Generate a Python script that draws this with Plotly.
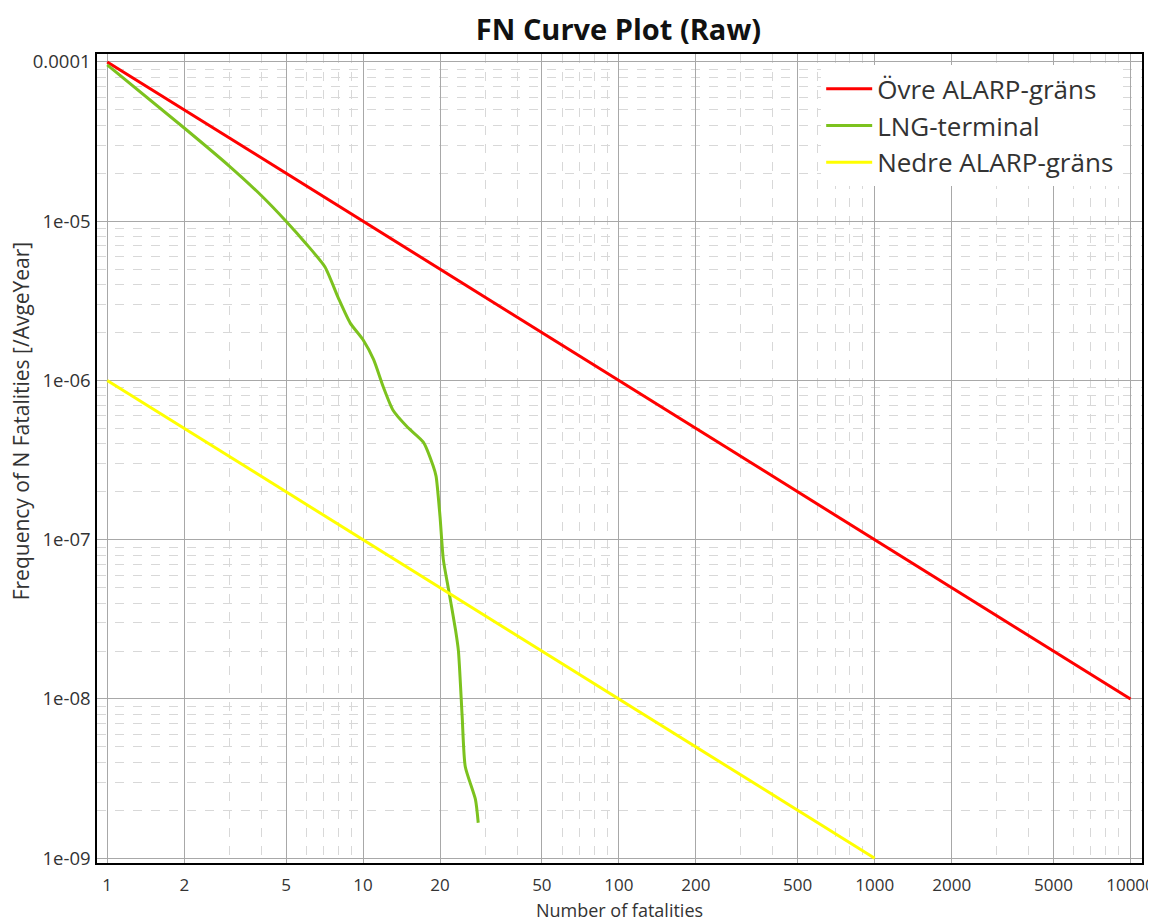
import plotly.graph_objects as go

# Data
upper_n = [1, 10000]
upper_f = [1e-4, 1e-8]

lower_n = [1, 1000]
lower_f = [1e-6, 1e-9]

lng_n = [1, 2, 3, 4, 5, 6, 7.1, 8, 8.9, 10, 11, 12, 13.1, 14.9, 17.2, 18.8, 19.3,
         20.0, 20.6, 21.6, 23.0, 23.6, 24.4, 25.1, 27.5, 28.2]
lng_f = [9.6e-5, 3.85e-5, 2.22e-5, 1.45e-5, 1.0e-5, 7.2e-6, 5.16e-6, 3.3e-6, 2.3e-6,
         1.8e-6, 1.35e-6, 9.1e-7, 6.5e-7, 5.1e-7, 4.1e-7, 2.9e-7, 2.5e-7, 1.39e-7,
         7.5e-8, 4.85e-8, 2.7e-8, 2.0e-8, 7.8e-9, 3.75e-9, 2.34e-9, 1.67e-9]

x_tickvals = [1, 2, 5, 10, 20, 50, 100, 200, 500, 1000, 2000, 5000, 10000]
x_ticktext = ["1", "2", "5", "10", "20", "50", "100", "200", "500", "1000", "2000", "5000", "10000"]
x_minor = [m * 10 ** d for d in range(0, 4) for m in (3, 4, 6, 7, 8, 9)]

y_tickvals = [1e-4, 1e-5, 1e-6, 1e-7, 1e-8, 1e-9]
y_ticktext = ["0.0001", "1e-05", "1e-06", "1e-07", "1e-08", "1e-09"]
y_minor = [m * 10 ** d for d in range(-9, -4) for m in (2, 3, 4, 5, 6, 7, 8, 9)]

y_title = "Frequency of N Fatalities [/AvgeYear]"
x_title = "Number of fatalities"

FONT = "Open Sans, Noto Sans, sans-serif"

fig = go.Figure()
fig.add_trace(go.Scatter(x=upper_n, y=upper_f, mode="lines", name="Övre ALARP-gräns",
                         line=dict(color="#FF0000", width=3)))
fig.add_trace(go.Scatter(x=lng_n, y=lng_f, mode="lines", name="LNG-terminal",
                         line=dict(color="#7CC21E", width=3, shape="spline", smoothing=0.6)))
fig.add_trace(go.Scatter(x=lower_n, y=lower_f, mode="lines", name="Nedre ALARP-gräns",
                         line=dict(color="#FFFF00", width=3)))

fig.update_layout(
    width=1148, height=914,
    margin=dict(l=89, r=14, t=46, b=59, autoexpand=False),
    paper_bgcolor="white", plot_bgcolor="white",
    font=dict(family=FONT, color="#333333", size=17),
    title=dict(text="<b>FN Curve Plot (Raw)</b>", x=0.499, xref="paper", xanchor="center",
               y=0.976, yref="container", yanchor="middle",
               font=dict(size=29, color="#111111", family=FONT)),
    legend=dict(x=0.693, y=0.986, xanchor="left", yanchor="top", bgcolor="white",
                font=dict(size=26, color="#333333", family=FONT),
                tracegroupgap=0, itemwidth=46),
    showlegend=True,
    annotations=[dict(text=y_title, textangle=-90, xref="paper", yref="paper",
                      x=-0.0727, y=0.546, xanchor="center", yanchor="middle",
                      showarrow=False, font=dict(size=21, color="#333333", family=FONT))],
)

fig.update_xaxes(
    type="log", range=[-0.04, 4.045], automargin=False,
    tickmode="array", tickvals=x_tickvals, ticktext=x_ticktext,
    tickfont=dict(size=17),
    showgrid=True, gridcolor="#A8A8A8", gridwidth=1,
    showline=True, linecolor="black", linewidth=1.5, mirror=True,
    ticks="", ticklabelstandoff=6,
    minor=dict(tickmode="array", tickvals=x_minor, showgrid=True,
               gridcolor="#D8D8D8", griddash="dash", gridwidth=1, ticks=""),
    title=dict(text=x_title, font=dict(size=18), standoff=12),
    zeroline=False,
)
fig.update_yaxes(
    type="log", range=[-9.03, -3.95], automargin=False,
    tickmode="array", tickvals=y_tickvals, ticktext=y_ticktext,
    tickfont=dict(size=18.5),
    showgrid=True, gridcolor="#A8A8A8", gridwidth=1,
    showline=True, linecolor="black", linewidth=1.5, mirror=True,
    ticks="", ticklabelstandoff=1,
    minor=dict(tickmode="array", tickvals=y_minor, showgrid=True,
               gridcolor="#D8D8D8", griddash="dash", gridwidth=1, ticks=""),
    zeroline=False,
)

fig.write_html("out.html")
